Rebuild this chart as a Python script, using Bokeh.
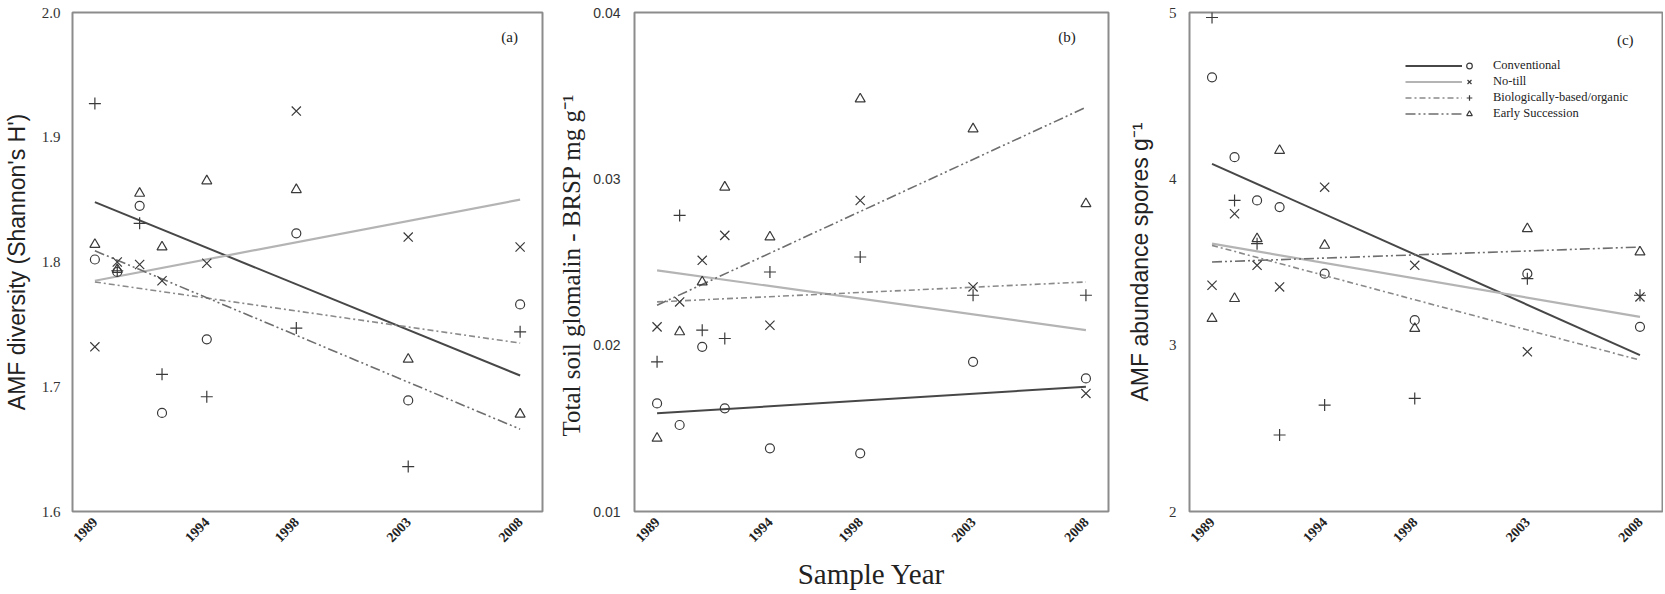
import math
from bokeh.plotting import figure
from bokeh.models import Range1d, FixedTicker, PrintfTickFormatter, Label, Legend, LegendItem
from bokeh.layouts import row
from bokeh.embed import file_html
from bokeh.resources import INLINE

# ---------------- data ----------------
years = [1989, 1990, 1991, 1992, 1994, 1998, 2003, 2008]
tick_years = [1989, 1994, 1998, 2003, 2008]
fit_years = [1989, 2008]
treatments = ["Conventional", "No-till", "Biologically-based/organic", "Early Succession"]

# (a) AMF diversity (Shannon's H')
a_conv = [1.802, 1.792, 1.845, 1.679, 1.738, 1.823, 1.689, 1.766]
a_notill = [1.732, 1.800, 1.798, 1.785, 1.799, 1.921, 1.820, 1.812]
a_bio = [1.927, 1.793, 1.831, 1.710, 1.692, 1.747, 1.636, 1.744]
a_early = [1.814, 1.794, 1.855, 1.812, 1.865, 1.858, 1.722, 1.678]
a_fit_conv = [1.848, 1.709]
a_fit_notill = [1.785, 1.850]
a_fit_bio = [1.784, 1.735]
a_fit_early = [1.809, 1.666]

# (b) Total soil glomalin - BRSP mg g-1
b_conv = [0.0165, 0.0152, 0.0199, 0.0162, 0.0138, 0.0135, 0.0190, 0.0180]
b_notill = [0.0211, 0.0226, 0.0251, 0.0266, 0.0212, 0.0287, 0.0235, 0.0171]
b_bio = [0.0190, 0.0278, 0.0209, 0.0204, 0.0244, 0.0253, 0.0230, 0.0230]
b_early = [0.0144, 0.0208, 0.0238, 0.0295, 0.0265, 0.0348, 0.0330, 0.0285]
b_fit_conv = [0.0159, 0.0175]
b_fit_notill = [0.0245, 0.0209]
b_fit_bio = [0.0226, 0.0238]
b_fit_early = [0.0224, 0.0343]

# (c) AMF abundance spores g-1
c_conv = [4.61, 4.13, 3.87, 3.83, 3.43, 3.15, 3.43, 3.11]
c_notill = [3.36, 3.79, 3.48, 3.35, 3.95, 3.48, 2.96, 3.29]
c_bio = [4.97, 3.87, 3.61, 2.46, 2.64, 2.68, 3.40, 3.30]
c_early = [3.16, 3.28, 3.64, 4.17, 3.60, 3.10, 3.70, 3.56]
c_fit_conv = [4.09, 2.94]
c_fit_notill = [3.61, 3.17]
c_fit_bio = [3.60, 2.91]
c_fit_early = [3.50, 3.59]

# ---------------- style ----------------
SERIF = "Liberation Serif"
SANS = "Liberation Sans"
H = 592
TOP = 12
BOTTOM = 80
ORIENT = 0.8

line_styles = [
    dict(line_color="#474747", line_width=2.0, line_dash="solid"),
    dict(line_color="#b4b4b4", line_width=2.2, line_dash="solid"),
    dict(line_color="#8a8a8a", line_width=1.6, line_dash="6 3 2 3"),
    dict(line_color="#6e6e6e", line_width=1.6, line_dash="10 3 2 3 2 3"),
]
marker_styles = [
    dict(marker="circle", size=9),
    dict(marker="x", size=13),
    dict(marker="cross", size=12),
    dict(marker="triangle", size=10),
]


def make_panel(series, fits, yr, yticks, yfmt, ylabel, ylabel_font, ylabel_size,
               ytick_font, ytick_size, letter, width, left, right, ylabel_standoff,
               ytick_standoff, xlabel=None, letter_dx=35, letter_dy=25):
    frame_w = width - left - right
    frame_h = H - TOP - BOTTOM
    p = figure(width=width, height=H, x_range=Range1d(1988, 2009), y_range=Range1d(*yr),
               output_backend="svg", toolbar_location=None,
               min_border_left=left, min_border_right=right,
               min_border_top=TOP, min_border_bottom=BOTTOM)
    p.grid.visible = False
    p.background_fill_color = "white"
    p.border_fill_color = "white"
    p.outline_line_color = "#8c8c8c"
    p.outline_line_width = 2

    line_rs, mark_rs = [], []
    for fit, ls in zip(fits, line_styles):
        line_rs.append(p.line(fit_years, fit, **ls))
    for vals, ms in zip(series, marker_styles):
        mark_rs.append(p.scatter(years, vals, fill_color=None, line_color="#3a3a3a",
                                 line_width=1.2, **ms))

    xa = p.xaxis[0]
    xa.ticker = FixedTicker(ticks=tick_years)
    xa.major_label_orientation = ORIENT
    xa.major_label_text_font = SERIF
    xa.major_label_text_font_style = "bold"
    xa.major_label_text_font_size = "14px"
    xa.major_label_text_color = "#222222"
    xa.major_label_standoff = 2
    xa.major_tick_line_color = None
    xa.minor_tick_line_color = None
    xa.axis_line_color = None
    if xlabel:
        xa.axis_label = xlabel
        xa.axis_label_text_font = SERIF
        xa.axis_label_text_font_style = "normal"
        xa.axis_label_text_font_size = "29px"
        xa.axis_label_text_color = "#222222"
        xa.axis_label_standoff = 8

    ya = p.yaxis[0]
    ya.ticker = FixedTicker(ticks=yticks)
    ya.formatter = PrintfTickFormatter(format=yfmt)
    ya.major_label_text_font = ytick_font
    ya.major_label_text_font_size = ytick_size
    ya.major_label_text_color = "#333333"
    ya.major_tick_line_color = None
    ya.minor_tick_line_color = None
    ya.axis_line_color = None
    ya.major_label_standoff = ytick_standoff
    ya.axis_label = ylabel
    ya.axis_label_text_font = ylabel_font
    ya.axis_label_text_font_style = "normal"
    ya.axis_label_text_font_size = ylabel_size
    ya.axis_label_text_color = "#222222"
    ya.axis_label_standoff = ylabel_standoff

    xs, xe = p.x_range.start, p.x_range.end
    ys, ye = p.y_range.start, p.y_range.end
    lx = xe - letter_dx / frame_w * (xe - xs)
    ly = ye - letter_dy / frame_h * (ye - ys)
    p.add_layout(Label(x=lx, y=ly, text=letter, text_font=SERIF, text_font_size="15px",
                       text_color="#222222", text_align="center", text_baseline="middle"))
    return p, line_rs, mark_rs


pa, _, _ = make_panel(
    [a_conv, a_notill, a_bio, a_early],
    [a_fit_conv, a_fit_notill, a_fit_bio, a_fit_early],
    (1.6, 2.0), [1.6, 1.7, 1.8, 1.9, 2.0], "%.1f",
    "AMF diversity (Shannon's H')", SANS, "23px", SERIF, "15px", "(a)",
    width=555, left=71, right=13, ylabel_standoff=9, ytick_standoff=6,
    letter_dx=33, letter_dy=25)

pb, _, _ = make_panel(
    [b_conv, b_notill, b_bio, b_early],
    [b_fit_conv, b_fit_notill, b_fit_bio, b_fit_early],
    (0.01, 0.04), [0.01, 0.02, 0.03, 0.04], "%.2f",
    "Total  soil glomalin - BRSP mg g\u207b\u00b9", SERIF, "25px", SANS, "14px", "(b)",
    width=568, left=73, right=15, ylabel_standoff=5, ytick_standoff=8,
    xlabel="Sample Year", letter_dx=42, letter_dy=25)

pc, c_lines, c_marks = make_panel(
    [c_conv, c_notill, c_bio, c_early],
    [c_fit_conv, c_fit_notill, c_fit_bio, c_fit_early],
    (2, 5), [2, 3, 4, 5], "%d",
    "AMF abundance spores g\u207b\u00b9", SANS, "23px", SERIF, "15px", "(c)",
    width=540, left=56, right=1, ylabel_standoff=13, ytick_standoff=7,
    letter_dx=38, letter_dy=28)

leg_y = 390
leg_lines = Legend(items=[LegendItem(label=" ", renderers=[r]) for r in c_lines],
                   location=(216, leg_y), glyph_width=57, glyph_height=15, label_height=15,
                   label_width=0, spacing=1, padding=0, margin=0, border_line_color=None,
                   background_fill_alpha=0, label_text_font_size="1px", label_standoff=0)
leg_marks = Legend(items=[LegendItem(label=n, renderers=[r]) for n, r in zip(treatments, c_marks)],
                   location=(273, leg_y), glyph_width=14, glyph_height=15, label_height=15,
                   spacing=1, padding=0, margin=0, border_line_color=None,
                   background_fill_alpha=0, label_text_font=SERIF, label_text_font_size="12.5px",
                   label_text_color="#222222", label_standoff=17)
pc.add_layout(leg_lines)
pc.add_layout(leg_marks)

layout = row(pa, pb, pc)
open("out.html", "w").write(file_html(layout, INLINE))
